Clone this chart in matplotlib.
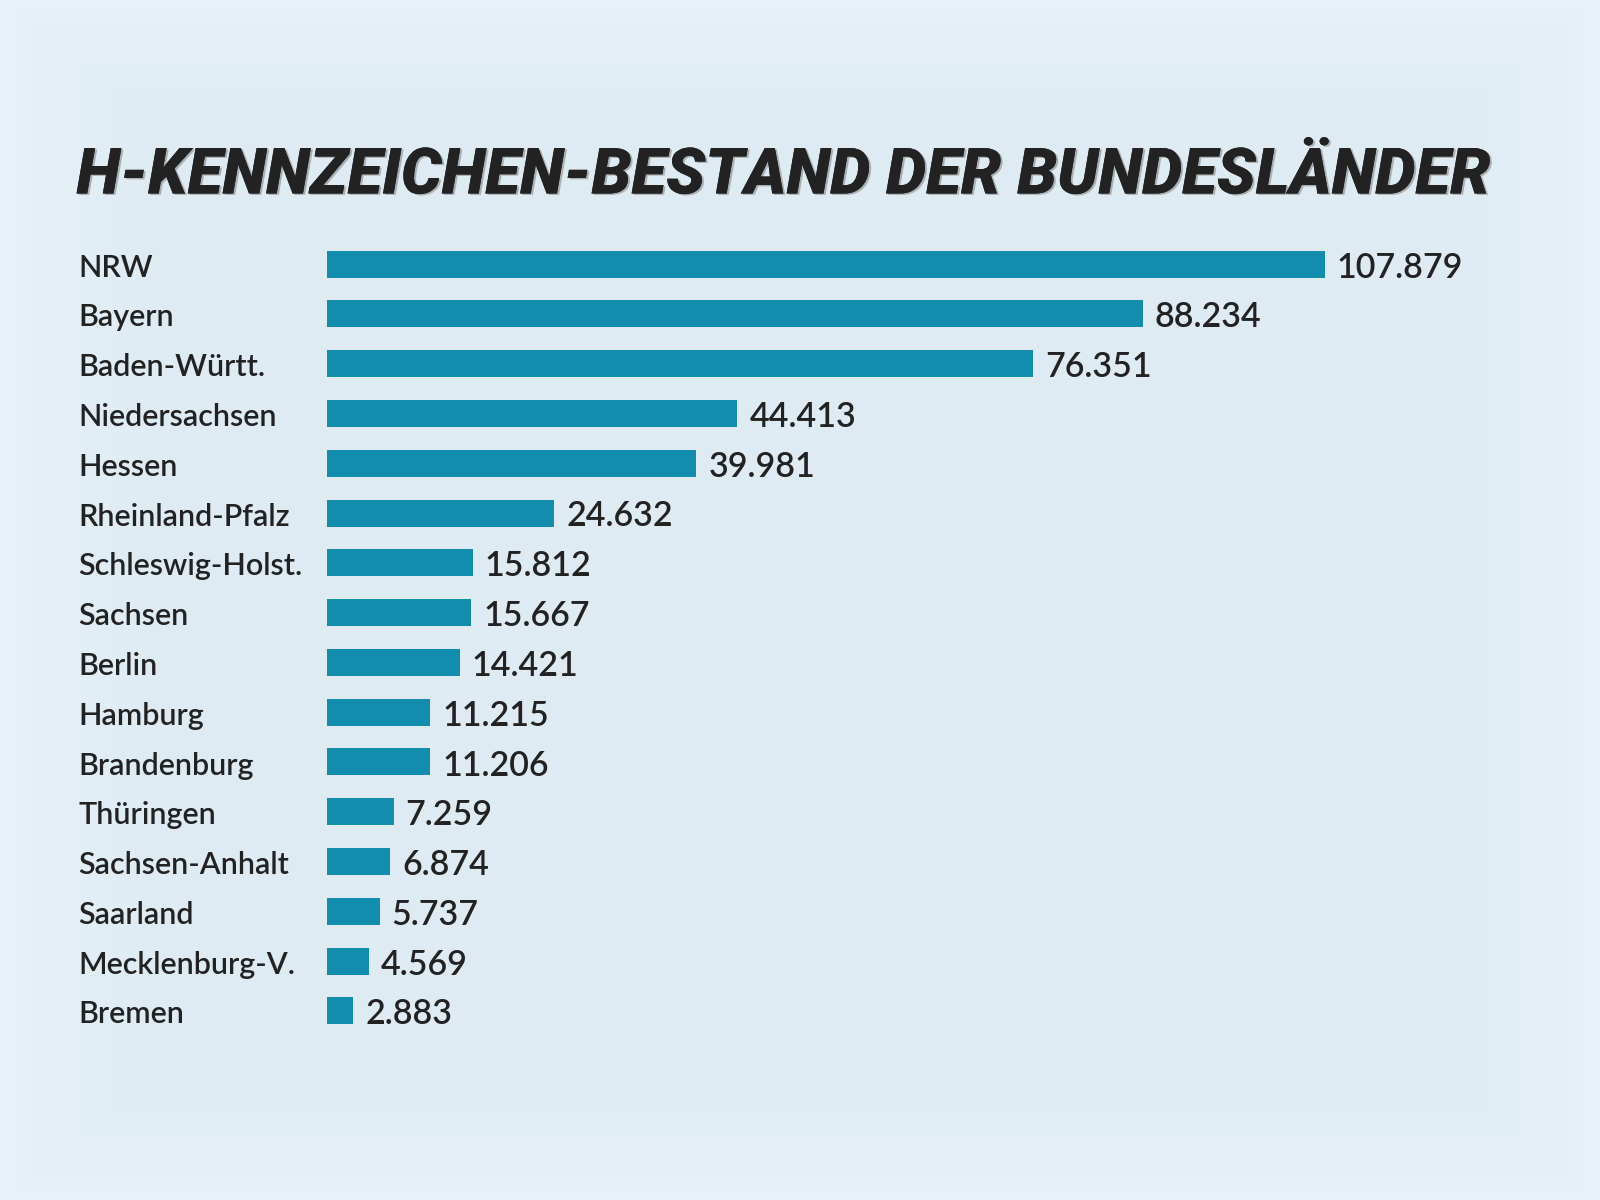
import numpy as np
import matplotlib.pyplot as plt
import matplotlib.transforms as mtransforms
import matplotlib.patheffects as pe

# Daten (Bestand H-Kennzeichen je Bundesland)
laender = ['NRW', 'Bayern', 'Baden-Württ.', 'Niedersachsen', 'Hessen',
           'Rheinland-Pfalz', 'Schleswig-Holst.', 'Sachsen', 'Berlin',
           'Hamburg', 'Brandenburg', 'Thüringen', 'Sachsen-Anhalt',
           'Saarland', 'Mecklenburg-V.', 'Bremen']
bestand = [107879, 88234, 76351, 44413, 39981, 24632, 15812, 15667, 14421,
           11215, 11206, 7259, 6874, 5737, 4569, 2883]
werte_text = ['107.879', '88.234', '76.351', '44.413', '39.981', '24.632',
              '15.812', '15.667', '14.421', '11.215', '11.206', '7.259',
              '6.874', '5.737', '4.569', '2.883']

TITEL = 'H-KENNZEICHEN-BESTAND DER BUNDESLÄNDER'
BALKEN = '#128DAE'
TEXT = '#222222'

W, H = 1600, 1200
fig = plt.figure(figsize=(16, 12), dpi=100)
fig.patch.set_facecolor('#deebf3')

# Hintergrund: leichter Verlauf (heller an den Rändern)
bg = fig.add_axes([0, 0, 1, 1], zorder=-10)
yy, xx = np.mgrid[0:1:300j, 0:1:400j]
d = np.maximum(np.abs(xx - 0.5) / 0.5, np.abs(yy - 0.5) / 0.5)
g = np.clip((d - 0.8) / 0.2, 0, 1)
c0 = np.array([0xde, 0xeb, 0xf3]) / 255
c1 = np.array([0xe8, 0xf2, 0xf8]) / 255
img = c0[None, None, :] * (1 - g[..., None]) + c1[None, None, :] * g[..., None]
bg.imshow(img, aspect='auto', extent=[0, 1, 0, 1])
bg.axis('off')

# Achse in Pixelkoordinaten platzieren
x0_px, x1_px = 326.5, 1500
top_px, bot_px = 200, 1100
ax = fig.add_axes([x0_px / W, 1 - bot_px / H, (x1_px - x0_px) / W, (bot_px - top_px) / H])
ax.patch.set_alpha(0)

px_per_unit = (1324.5 - 326.5) / bestand[0]
ax.set_xlim(0, (x1_px - x0_px) / px_per_unit)
y_first, step = 264, 49.8
ax.set_ylim((bot_px - y_first) / step, (top_px - y_first) / step)

pos = np.arange(len(laender))
ax.barh(pos, bestand, height=27 / step, color=BALKEN, left=0)

dy = 3.5 / step  # Text leicht nach unten
for p, v, t in zip(pos, bestand, werte_text):
    ax.text(v + 12 / px_per_unit, p + dy, t, va='center', ha='left',
            fontsize=24.5, color=TEXT, family='Lato', fontweight='semibold')

trans = mtransforms.blended_transform_factory(fig.transFigure, ax.transData)
for p, name in zip(pos, laender):
    ax.text(78.6 / W, p + dy, name, transform=trans, va='center', ha='left',
            fontsize=22, color=TEXT, family='Lato', fontweight='semibold')

ax.axis('off')

# Titel
title = fig.text(76.5 / W, 1 - 176 / H, TITEL, ha='left', va='center',
                 fontsize=46, fontweight='black', style='italic', family='Roboto',
                 color=TEXT,
                 path_effects=[pe.withSimplePatchShadow(offset=(1.5, -1), shadow_rgbFace='#888888', alpha=0.6),
                               pe.Normal()])
# Schriftgröße an die Breite der Vorlage anpassen
fig.canvas.draw()
bb = title.get_window_extent()
title.set_fontsize(46 * (1490 - 76.5) / bb.width)

fig.savefig('out.png', dpi=100, facecolor=fig.get_facecolor())
